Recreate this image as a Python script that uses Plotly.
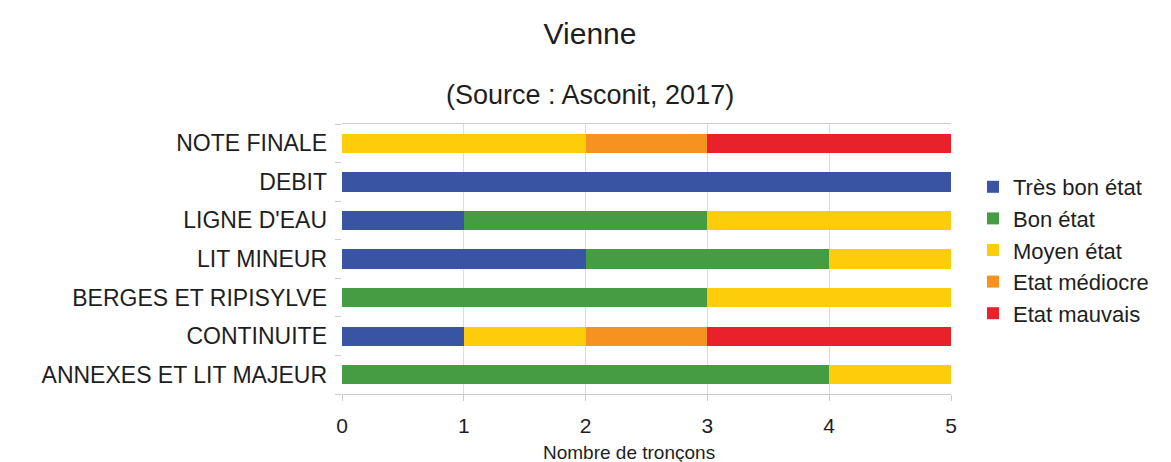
import plotly.graph_objects as go

categories = ["NOTE FINALE", "DEBIT", "LIGNE D'EAU", "LIT MINEUR",
              "BERGES ET RIPISYLVE", "CONTINUITE", "ANNEXES ET LIT MAJEUR"]
tres_bon = [0, 5, 1, 2, 0, 1, 0]
bon = [0, 0, 2, 2, 3, 0, 4]
moyen = [2, 0, 2, 1, 2, 1, 1]
mediocre = [1, 0, 0, 0, 0, 1, 0]
mauvais = [2, 0, 0, 0, 0, 2, 0]

series = [
    ("Très bon état", tres_bon, "#3a54a4"),
    ("Bon état", bon, "#459c43"),
    ("Moyen état", moyen, "#fdcd0b"),
    ("Etat médiocre", mediocre, "#f6921f"),
    ("Etat mauvais", mauvais, "#e8212b"),
]

font_family = "Liberation Sans, Arial, sans-serif"
txt = "#1e1e1e"

fig = go.Figure()
for name, vals, color in series:
    fig.add_trace(go.Bar(y=categories, x=vals, name=name, orientation="h",
                         marker=dict(color=color, line=dict(width=0)),
                         width=0.5))

# page has 8px body margin; compensate
fig.update_layout(
    barmode="stack",
    width=1171, height=462,
    margin=dict(l=334, r=228, t=116, b=76),
    paper_bgcolor="white", plot_bgcolor="white",
    font=dict(family=font_family, color=txt, size=22),
    title=dict(text="Vienne", x=582/1171, xanchor="center", y=1-25/462, yanchor="middle",
               font=dict(size=30, family=font_family, color=txt)),
    annotations=[
        dict(text="(Source : Asconit, 2017)", xref="paper", yref="paper",
             x=(590-342)/609, y=1+(124-95)/270, xanchor="center", yanchor="middle",
             showarrow=False, font=dict(size=27, family=font_family, color=txt)),
        dict(text="Nombre de tronçons", xref="paper", yref="paper",
             x=(629-342)/609, y=-(452-394)/270, xanchor="center", yanchor="middle",
             showarrow=False, font=dict(size=19, family=font_family, color=txt)),
    ],
    showlegend=True,
    legend=dict(x=(973-342)/609, y=1-(250-124)/270, xanchor="left", yanchor="middle",
                traceorder="normal",
                font=dict(size=22, family=font_family, color=txt),
                itemwidth=30, tracegroupgap=0, bgcolor="rgba(0,0,0,0)"),
    bargap=0.5,
)
fig.update_xaxes(range=[0, 5], dtick=1, showgrid=True, gridcolor="#dcdcdc", gridwidth=1,
                 ticks="outside", ticklen=6, tickcolor="#cccccc",
                 showline=True, linecolor="#cccccc", mirror=True,
                 zeroline=False, tickfont=dict(size=21), ticklabelstandoff=7)
fig.update_yaxes(categoryorder="array", categoryarray=categories[::-1],
                 autorange=False, range=[-0.5, 6.5],
                 ticks="outside", ticklen=6, tickcolor="#cccccc", tickson="boundaries",
                 showgrid=False, showline=False, tickfont=dict(size=23),
                 ticklabelstandoff=14)

fig.write_html("out.html")
